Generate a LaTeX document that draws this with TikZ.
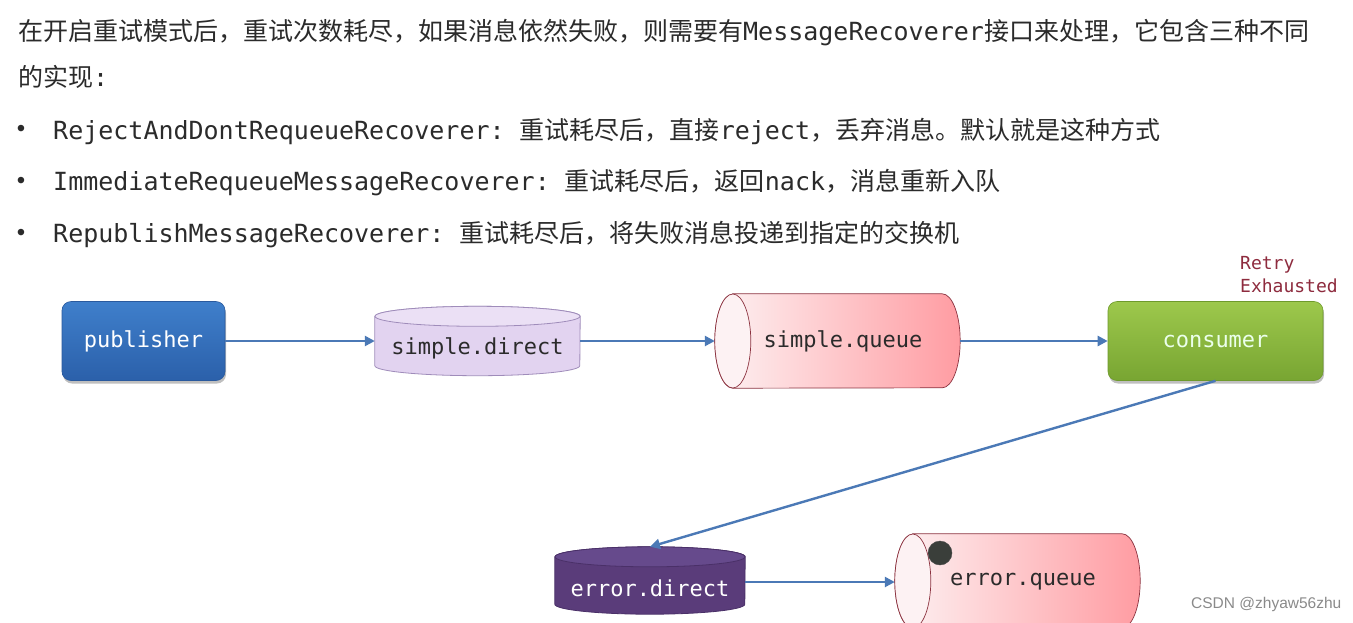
\documentclass[tikz,border=0pt]{standalone}
\usepackage{fontspec}
\setmainfont{Noto Sans CJK SC}
\setmonofont{DejaVu Sans Mono}
\newfontfamily\wmfont{Liberation Sans}
\usetikzlibrary{arrows.meta,shadows,calc}
\pgfdeclarelayer{background}
\pgfdeclarelayer{canvas}
\pgfsetlayers{canvas,background,main}
\definecolor{arrc}{HTML}{4B79B6}
\definecolor{pubtop}{HTML}{3F7FCB}
\definecolor{pubbot}{HTML}{2B60AA}
\definecolor{pubdraw}{HTML}{2A5A9E}
\definecolor{contop}{HTML}{9DC84C}
\definecolor{conbot}{HTML}{78A532}
\definecolor{condraw}{HTML}{6E9A2C}
\definecolor{sdbody}{HTML}{E2D3F0}
\definecolor{sdtop}{HTML}{EBE0F5}
\definecolor{sddraw}{HTML}{9F8CBA}
\definecolor{qleft}{HTML}{FDF2F3}
\definecolor{qright}{HTML}{FF9CA2}
\definecolor{qdraw}{HTML}{8C3340}
\definecolor{edbody}{HTML}{5A3C7A}
\definecolor{edtop}{HTML}{664A8C}
\definecolor{eddraw}{HTML}{4A3068}
\definecolor{dotc}{HTML}{3A3E3A}
\definecolor{txtc}{HTML}{2B2B2B}
\definecolor{retryc}{HTML}{8E2B3E}
\definecolor{wmc}{HTML}{8A8A8A}
\tikzset{
  txt/.style={anchor=west,inner sep=0pt,text=txtc,font=\fontsize{25}{30}\selectfont},
  bul/.style={anchor=center,inner sep=0pt,text=txtc,font=\wmfont\fontsize{24}{30}\selectfont},
  arr/.style={draw=arrc,line width=2.4pt,-{Triangle[length=10pt,width=10pt]}},
  rbox/.style={rounded corners=9pt,inner sep=0pt,line width=0.6pt,
    drop shadow={shadow xshift=1pt,shadow yshift=-3pt,opacity=0.25,fill=black}},
  shp/.style={inner sep=0pt},
  lbl/.style={inner sep=0pt,font=\ttfamily\fontsize{22}{26}\selectfont},
}
\begin{document}
\begin{tikzpicture}[x=1pt,y=1pt]
\useasboundingbox (0,0) rectangle (1353,-622);
\begin{pgfonlayer}{canvas}
\fill[white] (0,0) rectangle (1353,-622);
\end{pgfonlayer}

% ---------- text block ----------
\node[txt] (l1) at (18,-33) {在开启重试模式后，重试次数耗尽，如果消息依然失败，则需要有\texttt{MessageRecoverer}接口来处理，它包含三种不同};
\node[txt] (l2) at (18,-77) {的实现\texttt{:}};
\node[bul] (b1) at (21,-131) {•};
\node[txt] (t1) at (53,-131) {\texttt{RejectAndDontRequeueRecoverer: }重试耗尽后，直接\texttt{reject}，丢弃消息。默认就是这种方式};
\node[bul] (b2) at (21,-183) {•};
\node[txt] (t2) at (53,-183) {\texttt{ImmediateRequeueMessageRecoverer: }重试耗尽后，返回\texttt{nack}，消息重新入队};
\node[bul] (b3) at (21,-235) {•};
\node[txt] (t3) at (53,-235) {\texttt{RepublishMessageRecoverer: }重试耗尽后，将失败消息投递到指定的交换机};

% ---------- boxes ----------
\node[rbox,top color=pubtop,bottom color=pubbot,draw=pubdraw,minimum width=163pt,minimum height=79pt,
  text=white,font=\ttfamily\fontsize{22}{26}\selectfont] (pub) at (143.5,-341) {publisher};
\node[rbox,top color=contop,bottom color=conbot,draw=condraw,minimum width=215pt,minimum height=79pt,
  text=white!92!green,font=\ttfamily\fontsize{22}{26}\selectfont] (con) at (1215.5,-341) {consumer};

% simple.direct (vertical cylinder)
\node[shp,minimum width=205pt,minimum height=69pt] (sd) at (477.5,-341) {};
\node[lbl,text=txtc] (sdt) at (477.5,-348) {simple.direct};
% simple.queue (horizontal cylinder)
\node[shp,minimum width=245pt,minimum height=94pt] (sq) at (837.5,-341) {};
\node[lbl,text=txtc] (sqt) at (843,-341) {simple.queue};
% error.direct
\node[shp,minimum width=190pt,minimum height=67pt] (ed) at (650,-580.5) {};
\node[lbl,text=white] (edt) at (650,-588) {error.direct};
% error.queue
\node[shp,minimum width=245pt,minimum height=94pt] (eq) at (1017.5,-581) {};
\node[lbl,text=txtc] (eqt) at (1023,-582) {error.queue};

\begin{pgfonlayer}{background}
  % simple.direct
  \path[fill=sdbody,draw=sddraw,line width=0.8pt]
    ($(sd.north west)+(0,-10)$) -- ($(sd.south west)+(0,10)$)
    arc[start angle=180,end angle=360,x radius=102.5pt,y radius=10pt]
    -- ($(sd.north east)+(0,-10)$)
    arc[start angle=0,end angle=180,x radius=102.5pt,y radius=10pt] -- cycle;
  \path[fill=sdtop,draw=sddraw,line width=0.8pt] ($(sd.north)+(0,-10)$) ellipse[x radius=102.5pt,y radius=10pt];
  % simple.queue
  \path[left color=qleft,right color=qright,draw=qdraw,line width=0.7pt]
    ($(sq.north west)+(18,0)$) -- ($(sq.north east)+(-18,0)$)
    arc[start angle=90,end angle=-90,x radius=18pt,y radius=47pt]
    -- ($(sq.south west)+(18,0)$)
    arc[start angle=270,end angle=90,x radius=18pt,y radius=47pt] -- cycle;
  \path[fill=qleft,draw=qdraw,line width=0.7pt] ($(sq.west)+(18,0)$) ellipse[x radius=18pt,y radius=47pt];
  % error.direct
  \path[fill=edbody,draw=eddraw,line width=0.8pt]
    ($(ed.north west)+(0,-10)$) -- ($(ed.south west)+(0,10)$)
    arc[start angle=180,end angle=360,x radius=95pt,y radius=10pt]
    -- ($(ed.north east)+(0,-10)$)
    arc[start angle=0,end angle=180,x radius=95pt,y radius=10pt] -- cycle;
  \path[fill=edtop,draw=eddraw,line width=0.8pt] ($(ed.north)+(0,-10)$) ellipse[x radius=95pt,y radius=10pt];
  % error.queue
  \path[left color=qleft,right color=qright,draw=qdraw,line width=0.7pt]
    ($(eq.north west)+(18,0)$) -- ($(eq.north east)+(-18,0)$)
    arc[start angle=90,end angle=-90,x radius=18pt,y radius=47pt]
    -- ($(eq.south west)+(18,0)$)
    arc[start angle=270,end angle=90,x radius=18pt,y radius=47pt] -- cycle;
  \path[fill=qleft,draw=qdraw,line width=0.7pt] ($(eq.west)+(18,0)$) ellipse[x radius=18pt,y radius=47pt];
\end{pgfonlayer}

% message dot
\node[circle,fill=dotc,draw=black!70,minimum size=24pt,inner sep=0pt] (msg) at (940,-553) {};

% Retry Exhausted
\node[anchor=west,align=left,inner sep=0pt,text=retryc,font=\ttfamily\fontsize{18}{23}\selectfont] (retry) at (1240,-274.5) {Retry\\Exhausted};

% ---------- arrows ----------
\draw[arr] (pub.east) -- (sd.west);
\draw[arr] (sd.east) -- (sq.west);
\draw[arr] (sq.east) -- (con.west);
\draw[arr] (con.south) -- (ed.north);
\draw[arr] (ed.east |- eqt.west) -- (eq.west |- eqt.west);

% watermark
\node[anchor=west,inner sep=0pt,text=wmc,font=\wmfont\fontsize{15.5}{18}\selectfont] (wm) at (1191,-604) {CSDN @zhyaw56zhu};
\end{tikzpicture}
\end{document}
